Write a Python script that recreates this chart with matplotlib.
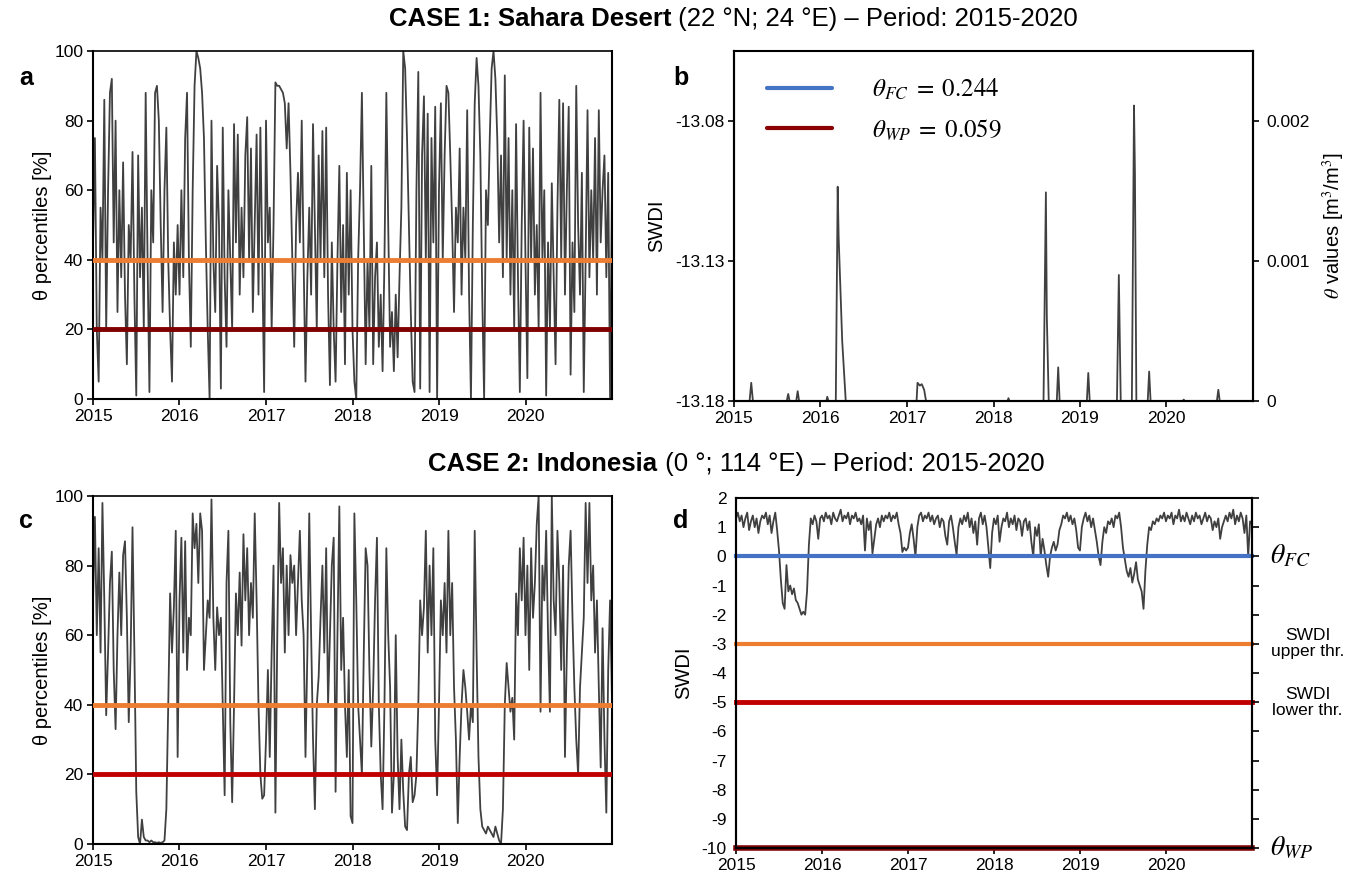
import numpy as np
import pandas as pd
import matplotlib
matplotlib.use('Agg')
import matplotlib.pyplot as plt
import matplotlib.dates as mdates
import matplotlib.transforms as mtransforms

plt.rcParams['font.family'] = ['Liberation Sans', 'DejaVu Sans']
plt.rcParams['mathtext.fontset'] = 'stix'
plt.rcParams['axes.unicode_minus'] = False
plt.rcParams['font.size'] = 13

# --- CASE 1: Sahara, theta percentiles (8-day steps) ---
sahara_pct = [
    45, 75, 20, 5, 55, 40, 86, 20, 60, 88, 92, 45, 80, 25, 60, 35, 68, 30, 10, 50, 40, 71, 30, 1, 70,
    35, 55, 20, 88, 40, 2, 60, 45, 88, 90, 80, 50, 25, 60, 78, 40, 20, 5, 45, 30, 50,
    30, 60, 35, 75, 88, 40, 15, 60, 90, 100, 98, 95, 88, 75, 45, 20, 0, 80, 40, 25, 67, 50, 3, 78,
    35, 15, 60, 40, 20, 79, 45, 76, 30, 55, 35, 70, 81, 40, 72, 25, 50, 76, 30, 78, 40, 2,
    80, 45, 55, 20, 50, 91, 90, 90, 89, 88, 85, 72, 85, 65, 40, 15, 50, 65, 45, 80, 40, 5, 35, 55,
    30, 79, 50, 20, 70, 40, 77, 35, 78, 30, 4, 45, 20, 5, 40, 67, 25, 50, 10, 65, 30, 60,
    20, 5, 0, 40, 60, 88, 50, 10, 40, 20, 67, 10, 35, 45, 15, 30, 8, 40, 88, 50, 15, 25, 8, 30,
    12, 35, 55, 100, 95, 75, 50, 25, 5, 2, 60, 94, 3, 70, 87, 40, 82, 2, 75, 45, 84, 0,
    60, 85, 40, 70, 90, 88, 70, 50, 25, 55, 45, 72, 30, 55, 40, 83, 30, 0, 50, 85, 98, 90, 70, 30,
    0, 60, 50, 75, 95, 100, 92, 75, 45, 70, 35, 93, 40, 75, 30, 60, 20, 79, 35, 2, 50, 80,
    40, 6, 78, 40, 72, 30, 50, 20, 88, 40, 60, 1, 45, 20, 62, 35, 10, 55, 86, 40, 85, 30, 60, 84,
    7, 45, 25, 90, 50, 30, 65, 2, 40, 83, 35, 60, 40, 75, 30, 83, 45, 60, 70, 35, 65, 0, 60,
]

# --- CASE 1: Sahara, theta values [m3/m3] (mostly zero, a few wet spells) ---
sahara_theta_dates = [
    '2015-01-01', '2015-03-08', '2015-03-15', '2015-03-22', '2015-08-12', '2015-08-18', '2015-08-24',
    '2015-09-21', '2015-09-27', '2015-10-03', '2016-01-26', '2016-01-30', '2016-02-04',
    '2016-03-06', '2016-03-14', '2016-03-18', '2016-04-02', '2016-04-17',
    '2017-02-10', '2017-02-14', '2017-02-24', '2017-03-04', '2017-03-14', '2017-03-22',
    '2018-03-01', '2018-03-05', '2018-03-09', '2018-07-31', '2018-08-10', '2018-08-14', '2018-08-22',
    '2018-09-25', '2018-10-01', '2018-10-07', '2019-01-30', '2019-02-05', '2019-02-11',
    '2019-06-06', '2019-06-14', '2019-06-22', '2019-08-08', '2019-08-13', '2019-08-17', '2019-08-21',
    '2019-08-27', '2019-10-14', '2019-10-20', '2019-10-26', '2020-03-10', '2020-03-14', '2020-03-18',
    '2020-08-01', '2020-08-07', '2020-08-13', '2020-12-31',
]
sahara_theta = [
    0, 0, 0.00013, 0, 0, 0.00005, 0, 0, 0.00007, 0, 0, 0.00003, 0,
    0, 0.00153, 0.00117, 0.00043, 0,
    0, 0.00013, 0.00011, 0.00012, 0.00008, 0,
    0, 0.00002, 0, 0, 0.00149, 0.0006, 0,
    0, 0.00024, 0, 0, 0.0002, 0,
    0, 0.0009, 0, 0, 0.00115, 0.00211, 0.00163,
    0, 0, 0.00021, 0, 0, 0.00001, 0,
    0, 0.00008, 0, 0,
]

# --- CASE 2: Indonesia, theta percentiles ---
indo_pct = [
    70, 94, 60, 85, 55, 98, 70, 37, 55, 75, 84, 50, 33, 60, 78, 60, 83, 87, 65, 35, 55, 91, 55, 15,
    2, 0, 7, 2, 1, 1, 0.5, 1, 0.5, 0.5, 0.3, 0.5, 0.3, 0.5, 1, 10, 40, 72, 55, 68, 90, 25,
    70, 88, 55, 87, 50, 65, 60, 95, 85, 92, 75, 95, 90, 50, 60, 70, 65, 99, 65, 50, 68, 60, 65, 40,
    14, 75, 90, 35, 12, 40, 72, 60, 78, 57, 89, 70, 85, 60, 75, 65, 95, 70, 40, 20, 13, 14,
    30, 50, 25, 55, 80, 9, 60, 98, 75, 85, 55, 80, 60, 83, 75, 80, 60, 75, 90, 70, 60, 25, 55, 95,
    60, 30, 10, 40, 48, 65, 80, 55, 85, 40, 60, 80, 88, 15, 60, 97, 50, 65, 40, 25, 50, 8,
    6, 95, 70, 40, 30, 20, 55, 85, 80, 50, 28, 45, 70, 88, 40, 20, 10, 40, 85, 60, 45, 9, 20, 60,
    25, 10, 30, 15, 5, 4, 20, 25, 12, 14, 20, 40, 70, 60, 68, 90, 55, 80, 60, 85, 30, 14,
    40, 70, 60, 75, 55, 90, 60, 75, 45, 30, 6, 25, 40, 50, 45, 38, 30, 40, 35, 90, 55, 25, 10, 5,
    4, 3, 5, 4, 3, 2, 5, 3, 1, 0, 10, 40, 52, 45, 38, 42, 30, 72, 60, 85, 70, 88,
    60, 80, 50, 85, 65, 75, 92, 100, 38, 80, 70, 90, 60, 38, 100, 70, 60, 90, 75, 50, 80, 25, 55, 80,
    90, 65, 45, 30, 20, 45, 55, 65, 98, 75, 98, 70, 80, 55, 70, 45, 22, 62, 30, 9, 50, 70, 42,
]

# --- CASE 2: Indonesia, SWDI ---
indo_swdi = [
    1.3, 1.5, 1.2, 1.4, 1.0, 1.3, 1.5, 0.9, 1.2, 1.4, 1.0, 1.3, 0.8, 1.2, 1.4, 1.3, 1.5, 1.1, 1.4, 0.8,
    1.2, 1.5, 0.9, 0.2, -0.8, -1.6, -1.8, -0.3, -1.2, -1.0, -1.3, -1.1, -1.5, -1.6, -1.8, -2.0, -1.9,
    -2.0, -1.2, 0.4, 1.3, 1.1, 1.4, 1.2, 0.6, 1.3,
    1.4, 1.2, 1.5, 1.3, 1.4, 1.1, 1.5, 1.3, 1.2, 1.4, 1.6, 1.2, 1.4, 1.3, 1.5, 1.1, 1.4, 1.3, 1.5, 1.2,
    1.3, 1.1, 1.4, 0.2, 1.3, 0.9, 1.2, 0.1, 0.6, 1.1, 1.3, 1.0, 1.4, 1.2, 1.4, 1.3, 1.5, 1.2, 1.4, 1.3,
    1.5, 1.1, 0.8, 0.15, 0.3, 0.2,
    0.3, 0.8, 1.1, 0.6, 0.0, 1.0, 1.4, 1.5, 1.2, 1.4, 1.3, 1.5, 1.2, 1.4, 1.1, 1.3, 1.4, 1.0, 1.3, 1.2,
    0.7, 0.4, 1.2, 1.4, 1.0, 0.5, 0.05, 1.0, 1.3, 1.1, 1.4, 1.2, 1.5, 1.0, 1.3, 0.8, 1.2, 0.4, 1.3, 1.5,
    1.1, 1.4, 1.0, 0.3, -0.4, 0.8,
    1.3, 1.1, 1.4, 0.5, 1.0, 1.3, 1.2, 1.5, 1.0, 1.3, 1.1, 1.4, 0.9, 1.3, 1.2, 0.7, 1.2, 1.3, 0.9, 1.2,
    0.5, 0.0, 1.0, 0.7, 1.1, 0.0, 0.6, 0.2, -0.3, -0.7, 0.0, 0.3, 0.5, 0.2, 0.4, 0.9, 1.1, 1.4, 1.3, 1.5,
    1.2, 1.4, 1.1, 1.3, 0.9, 0.3,
    0.2, 1.0, 1.3, 1.5, 1.2, 1.4, 1.0, 1.3, 0.9, 0.5, 0.0, -0.3, 0.5, 1.0, 0.8, 1.2, 1.1, 1.3, 1.0, 1.4,
    1.3, 1.5, 1.0, 0.3, -0.1, -0.5, -0.7, -0.4, -0.9, -0.6, -0.2, -0.8, -1.0, -1.2, -1.8, -0.5, 0.4, 1.0,
    0.9, 1.2, 1.1, 1.3, 1.2, 1.4, 1.3, 1.5,
    1.2, 1.4, 1.3, 1.5, 1.1, 1.4, 1.3, 1.6, 1.2, 1.4, 1.2, 1.5, 1.3, 1.1, 1.4, 1.2, 1.5, 1.3, 1.4, 1.1,
    1.3, 1.5, 1.2, 1.4, 1.3, 0.9, 1.2, 1.0, 1.3, 0.6, 1.0, 1.2, 1.4, 1.2, 1.5, 1.3, 1.6, 1.1, 1.4, 1.2,
    1.5, 1.3, 0.8, 1.4, 0.0, 1.2, 1.1,
]

pct_thresholds = [40, 20]                  # upper / lower percentile thresholds
theta_fc, theta_wp = 0.244, 0.059
swdi_levels = [0, -3, -5, -10]             # theta_FC, upper thr., lower thr., theta_WP
swdi_labels = [r'$\theta_{FC}$', 'SWDI\nupper thr.', 'SWDI\nlower thr.', r'$\theta_{WP}$']

GREY = '#404040'
ORANGE = '#ed7d31'
BLUE = '#4472c4'
DARKRED = '#7f0000'
RED = '#c00000'

start, end = pd.Timestamp('2015-01-01'), pd.Timestamp('2020-12-31')


def dates_for(vals):
    return pd.date_range('2015-01-01', '2020-12-31', periods=len(vals))


def style_time_axis(ax):
    ax.set_xlim(start, end)
    ax.xaxis.set_major_locator(mdates.YearLocator())
    ax.xaxis.set_major_formatter(mdates.DateFormatter('%Y'))
    ax.tick_params(axis='x', direction='out', length=4, width=1.2, labelsize=12.5, pad=3)
    ax.tick_params(axis='y', direction='out', length=4, width=1.2, labelsize=12.5, pad=3)
    for s in ax.spines.values():
        s.set_linewidth(1.5)
    ax.spines['top'].set_linewidth(1.2)


def mixed_title(fig, y, bold, rest, size=18.5, xc=0.5):
    # bold + regular text centred as one line
    r = fig.canvas.get_renderer()
    t1 = fig.text(0, y, bold, fontsize=size, fontweight='bold', va='center')
    t2 = fig.text(0, y, rest, fontsize=size, va='center')
    w1 = t1.get_window_extent(r).width
    w2 = t2.get_window_extent(r).width
    W = fig.bbox.width
    x0 = xc - (w1 + w2) / 2 / W
    t1.set_x(x0)
    t2.set_x(x0 + w1 / W)


fig = plt.figure(figsize=(13.66, 8.83), dpi=100)

ax_a = fig.add_axes([0.0681, 0.5481, 0.3799, 0.3941])
ax_b = fig.add_axes([0.5373, 0.5459, 0.3799, 0.3964])
ax_c = fig.add_axes([0.0681, 0.0442, 0.3799, 0.3941])
ax_d = fig.add_axes([0.5388, 0.0396, 0.3777, 0.3964])

# panel a
ax_a.plot(dates_for(sahara_pct), sahara_pct, color=GREY, lw=1.3, zorder=2)
ax_a.axhline(pct_thresholds[0], color=ORANGE, lw=3.5, zorder=3)
ax_a.axhline(pct_thresholds[1], color=DARKRED, lw=3.5, zorder=3)
ax_a.set_ylim(0, 100)
ax_a.set_yticks(range(0, 101, 20))
ax_a.set_ylabel('θ percentiles [%]', fontsize=14.5, labelpad=2)
style_time_axis(ax_a)

# panel b
ax_b2 = ax_b.twinx()
ax_b2.plot(pd.to_datetime(sahara_theta_dates), sahara_theta, color=GREY, lw=1.3, zorder=2)
ax_b2.axhline(theta_fc, color=BLUE, lw=3)
ax_b2.axhline(theta_wp, color='#8b0000', lw=3)
ax_b2.set_ylim(0, 0.0025)
ax_b2.set_yticks([0, 0.001, 0.002])
ax_b2.set_yticklabels(['0', '0.001', '0.002'])
ax_b2.set_ylabel(r'$\it{θ}$ values [m$^3$/m$^3$]', fontsize=14.5, labelpad=8)
ax_b.set_ylim(-13.18, -13.055)
ax_b.set_yticks([-13.18, -13.13, -13.08])
ax_b.set_yticklabels(['-13.18', '-13.13', '-13.08'])
ax_b.set_ylabel('SWDI', fontsize=14.5, labelpad=6)
style_time_axis(ax_b)
ax_b2.tick_params(axis='y', direction='out', length=4, width=1.2, labelsize=12.5, pad=6)
for s in ax_b2.spines.values():
    s.set_linewidth(1.5)
handles = [plt.Line2D([], [], color=BLUE, lw=3, solid_capstyle='round'),
           plt.Line2D([], [], color='#8b0000', lw=3, solid_capstyle='round')]
ax_b.legend(handles, [r'$\theta_{FC}\;=\;0.244$', r'$\theta_{WP}\;=\;0.059$'], loc='upper left',
            bbox_to_anchor=(0.02, 0.99), frameon=False, fontsize=18, handlelength=2.6,
            handletextpad=1.6, labelspacing=0.6)

# panel c
ax_c.plot(dates_for(indo_pct), indo_pct, color=GREY, lw=1.3, zorder=2)
ax_c.axhline(pct_thresholds[0], color=ORANGE, lw=3.5, zorder=3)
ax_c.axhline(pct_thresholds[1], color=RED, lw=3.5, zorder=3)
ax_c.set_ylim(0, 100)
ax_c.set_yticks(range(0, 101, 20))
ax_c.set_ylabel('θ percentiles [%]', fontsize=14.5, labelpad=2)
style_time_axis(ax_c)

# panel d
ax_d.plot(dates_for(indo_swdi), indo_swdi, color=GREY, lw=1.3, zorder=2)
for lev, col, lw in zip(swdi_levels, [BLUE, ORANGE, RED, DARKRED], [3, 3, 3.5, 4]):
    ax_d.axhline(lev, color=col, lw=lw, zorder=3, clip_on=False)
ax_d.set_ylim(-10, 2)
ax_d.set_yticks(range(-10, 3))
ax_d.set_ylabel('SWDI', fontsize=14.5, labelpad=6)
style_time_axis(ax_d)
ax_d.tick_params(axis='y', length=0, pad=7)
ax_d2 = ax_d.twinx()
ax_d2.set_ylim(-10, 2)
ax_d2.set_yticks(range(-10, 3))
ax_d2.set_yticklabels([])
ax_d2.tick_params(axis='y', direction='out', length=5, width=1.2)
for s in ax_d2.spines.values():
    s.set_linewidth(1.5)
tr = mtransforms.blended_transform_factory(ax_d.transAxes, ax_d.transData)
for lev, lab in zip(swdi_levels, swdi_labels):
    if lab.startswith('$'):
        ax_d.text(1.035, lev, lab, transform=tr, fontsize=20, va='center', ha='left')
    else:
        ax_d.text(1.108, lev, lab, transform=tr, fontsize=12.5, va='center', ha='center',
                  linespacing=1.1)

# panel letters
for x, y, s in [(0.014, 0.912, 'a'), (0.493, 0.912, 'b'), (0.014, 0.41, 'c'), (0.493, 0.41, 'd')]:
    fig.text(x, y, s, fontsize=18, fontweight='bold', va='center')

fig.canvas.draw()
mixed_title(fig, 1 - 19 / 883, 'CASE 1: Sahara Desert', ' (22 °N; 24 °E) – Period: 2015-2020',
            xc=0.537)
mixed_title(fig, 1 - 464 / 883, 'CASE 2: Indonesia', ' (0 °; 114 °E) – Period: 2015-2020',
            xc=0.539)

fig.savefig('out.png', dpi=100)
